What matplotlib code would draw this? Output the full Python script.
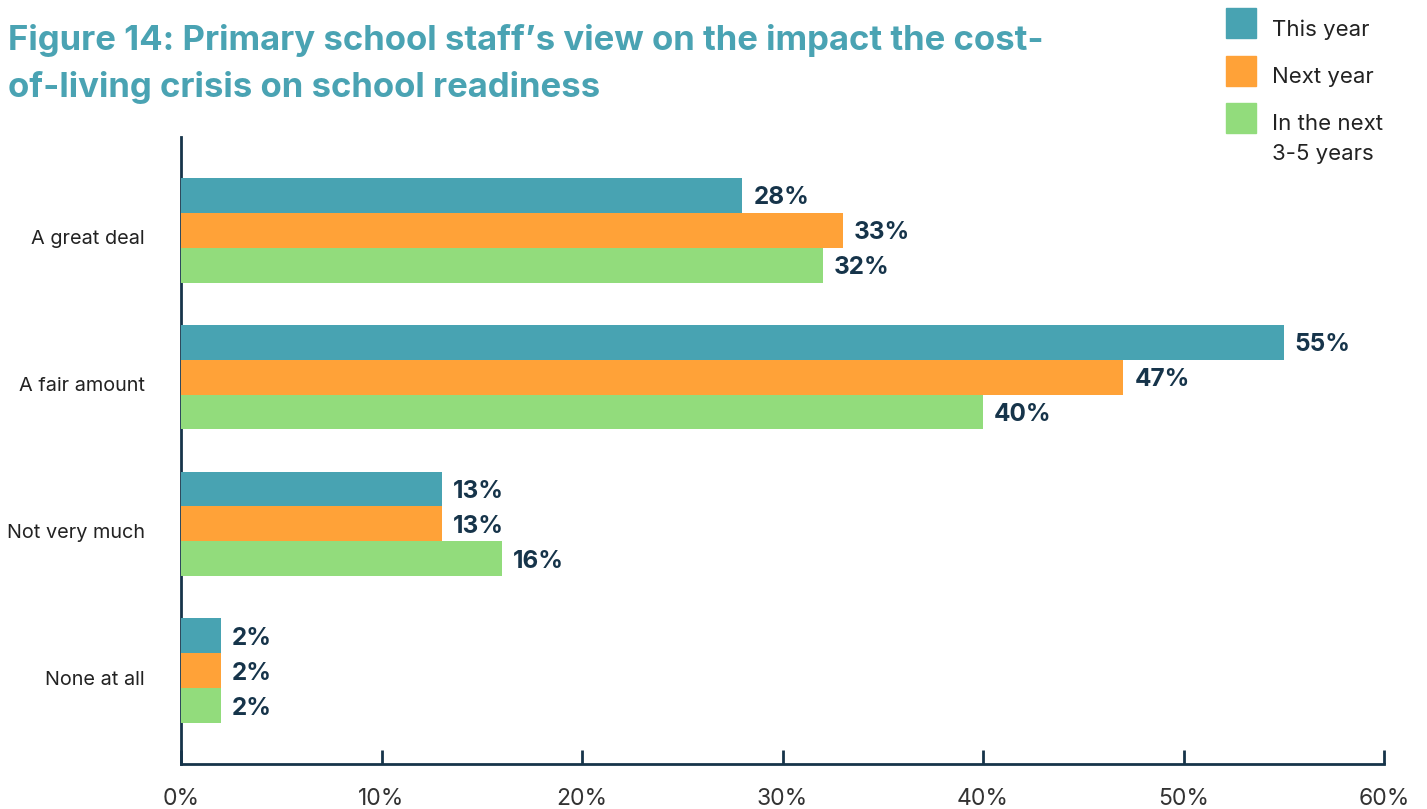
import matplotlib
matplotlib.use("Agg")
import matplotlib.pyplot as plt
from matplotlib.patches import Rectangle
import numpy as np

plt.rcParams['font.family'] = ['Inter', 'DejaVu Sans']

categories = ["A great deal", "A fair amount", "Not very much", "None at all"]
series_names = ["This year", "Next year", "In the next\n3-5 years"]
this_year = [28, 55, 13, 2]
next_year = [33, 47, 13, 2]
next_3_5 = [32, 40, 16, 2]
xticks = [0, 10, 20, 30, 40, 50, 60]

colors = ["#48A3B2", "#FFA238", "#92DC7C"]
navy = "#16344A"
title_col = "#4AA3B3"

W, H = 1427, 809
fig = plt.figure(figsize=(W / 100, H / 100), dpi=100)
ax = fig.add_axes([181/W, 1-764/H, (1384-181)/W, (764-137)/H])

h = 0.238
y = np.arange(len(categories))
for i, (vals, c, name) in enumerate(zip([this_year, next_year, next_3_5], colors, series_names)):
    pos = y + (i - 1) * h
    ax.barh(pos, vals, height=h, color=c, label=name, zorder=3)
    for p, v in zip(pos, vals):
        ax.text(v + 0.55, p + 0.02, f"{v}%", va="center", ha="left",
                fontsize=17.5, fontweight="bold", color=navy)

ax.set_xlim(0, 60)
ax.set_ylim(3.633, -0.633)
# category labels sit a little below the middle of each group
ax.set_yticks(y + 0.05)
ax.set_yticklabels(categories, fontsize=14.3, color="#222222")
ax.tick_params(axis="y", length=0, pad=26)
ax.set_xticks(xticks)
ax.set_xticklabels([f"{t}%" for t in xticks], fontsize=16.5, color="#333333")
ax.tick_params(axis="x", direction="in", length=10, width=2, color=navy, pad=17)

for s in ["top", "right"]:
    ax.spines[s].set_visible(False)
for s in ["left", "bottom"]:
    ax.spines[s].set_color(navy)
    ax.spines[s].set_linewidth(2)

fig.text(8/W, 1-50/H, "Figure 14: Primary school staff\u2019s view on the impact the cost-",
         fontsize=25, fontweight="bold", color=title_col, ha="left", va="baseline")
fig.text(8/W, 1-97/H, "of-living crisis on school readiness",
         fontsize=25, fontweight="bold", color=title_col, ha="left", va="baseline")

# legend drawn by hand: swatch plus label, top to bottom
sw_tops = [8, 56, 103]
for c, name, top in zip(colors, series_names, sw_tops):
    fig.patches.append(Rectangle((1226/W, 1-(top+30)/H), 30/W, 30/H,
                                 transform=fig.transFigure, color=c))
    fig.text(1272/W, 1-(top+11)/H, name, fontsize=16, color="#222222",
             ha="left", va="top", linespacing=1.62)

fig.savefig("out.png", dpi=100)
